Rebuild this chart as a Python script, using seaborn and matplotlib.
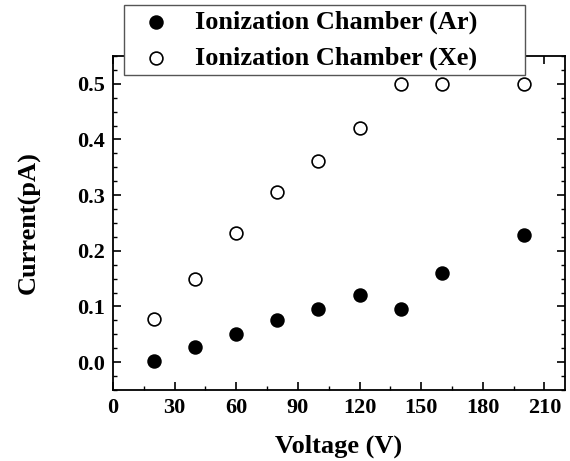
import matplotlib
matplotlib.use("Agg")
import matplotlib.pyplot as plt
import seaborn as sns
import pandas as pd
from matplotlib.ticker import MultipleLocator

voltage = [20, 40, 60, 80, 100, 120, 140, 160, 200]
current_ar = [0.002, 0.027, 0.051, 0.075, 0.095, 0.120, 0.095, 0.160, 0.228]
current_xe = [0.078, 0.150, 0.232, 0.305, 0.362, 0.420, 0.500, 0.500, 0.500]
label_ar = "Ionization Chamber (Ar)"
label_xe = "Ionization Chamber (Xe)"
x_label = "Voltage (V)"
y_label = "Current(pA)"

sns.set_theme(style="ticks")
plt.rcParams['font.family'] = ['Liberation Serif', 'DejaVu Serif']
plt.rcParams['font.weight'] = 'bold'
plt.rcParams['text.color'] = 'black'
plt.rcParams['axes.labelcolor'] = 'black'
plt.rcParams['xtick.color'] = 'black'
plt.rcParams['ytick.color'] = 'black'

df_ar = pd.DataFrame({"V": voltage, "I": current_ar})
df_xe = pd.DataFrame({"V": voltage, "I": current_xe})

fig = plt.figure(figsize=(5.7, 4.61), dpi=100)
ax = fig.add_axes([113/570, 1-390/461, (565-113)/570, (390-56)/461])

sns.scatterplot(data=df_ar, x="V", y="I", ax=ax, marker="o", s=85,
                color="black", edgecolor="black", linewidth=1.2, label=label_ar, zorder=3)
sns.scatterplot(data=df_xe, x="V", y="I", ax=ax, marker="o", s=85,
                facecolor="white", edgecolor="black", linewidth=1.2, label=label_xe, zorder=3)

ax.set_xlim(0, 220)
ax.set_ylim(-0.05, 0.55)
ax.xaxis.set_major_locator(MultipleLocator(30))
ax.xaxis.set_minor_locator(MultipleLocator(15))
ax.yaxis.set_major_locator(MultipleLocator(0.1))
ax.yaxis.set_minor_locator(MultipleLocator(0.025))
ax.yaxis.set_major_formatter(matplotlib.ticker.FormatStrFormatter('%.1f'))
ax.tick_params(which='both', direction='in', top=True, right=True, color='black')
ax.tick_params(which='major', length=6, width=1.2, labelsize=16, pad=6)
ax.tick_params(which='minor', length=3, width=1.0)
for lab in ax.get_xticklabels() + ax.get_yticklabels():
    lab.set_fontweight('bold')
for sp in ax.spines.values():
    sp.set_linewidth(1.3)
    sp.set_color('black')

ax.set_xlabel(x_label, fontsize=19, fontweight='bold', labelpad=12)
ax.set_ylabel(y_label, fontsize=19, fontweight='bold', labelpad=26)

handles, labels = ax.get_legend_handles_labels()
ax.get_legend().remove()
leg = fig.legend(handles, labels, loc='upper left',
                 bbox_to_anchor=(124/570, 1-5/461, (525-124)/570, 0.0),
                 mode='expand', borderaxespad=0, frameon=True, fancybox=False,
                 prop={'family': 'Liberation Serif', 'weight': 'bold', 'size': 19},
                 handletextpad=0.5, labelspacing=0.45, borderpad=0.2, markerscale=1.0)
leg.get_frame().set_edgecolor('#555555')
leg.get_frame().set_linewidth(1.0)
leg.get_frame().set_alpha(1.0)

fig.savefig("out.png", dpi=100)
